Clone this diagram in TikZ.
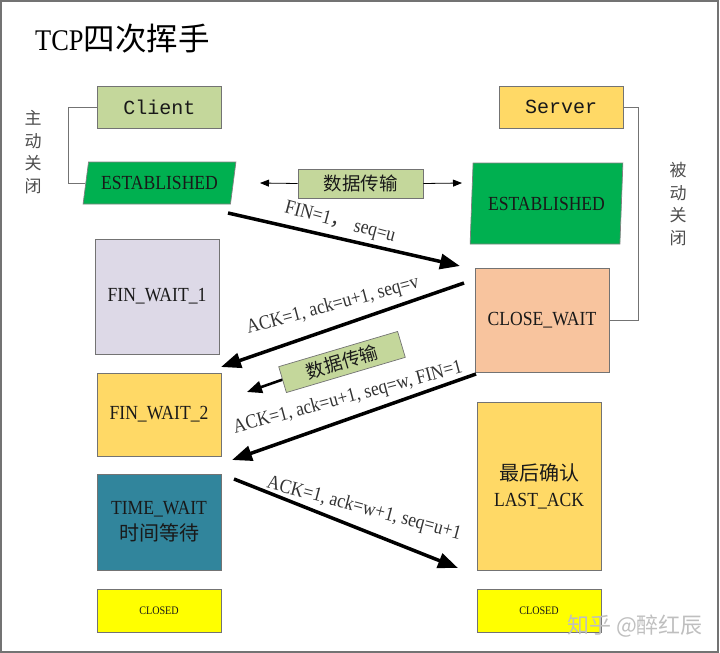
\documentclass[tikz,border=0pt]{standalone}
\usepackage{fontspec}
\setmainfont{Liberation Serif}[FakeStretch=0.88]
\newfontfamily\cjk{Noto Sans CJK SC}
\newfontfamily\monof{Liberation Mono}
\usetikzlibrary{arrows.meta,shapes.geometric}
\definecolor{cOlive}{HTML}{C4D79B}
\definecolor{cGreen}{HTML}{00B050}
\definecolor{cGold}{HTML}{FFD966}
\definecolor{cPeach}{HTML}{F8C49E}
\definecolor{cLav}{HTML}{DDD9E7}
\definecolor{cTeal}{HTML}{31859C}
\definecolor{cYel}{HTML}{FFFF00}
\tikzset{
  box/.style={draw=black!55, line width=0.7pt, minimum width=124pt, inner sep=0pt,
    align=center, text=black!90, font=\fontsize{20}{26}\selectfont},
  estab/.style={trapezium, trapezium stretches=true, fill=cGreen, draw=black!50,
    line width=0.7pt, inner sep=0pt, text=black!90, font=\fontsize{20}{24}\selectfont},
  brk/.style={draw=black!55, line width=0.9pt},
  big/.style={line width=3.5pt, -{Triangle[length=20pt,width=15pt]}},
  mid/.style={line width=2.6pt, -{Triangle[length=15pt,width=12pt]}},
  thinarr/.style={line width=0.8pt, -{Triangle[length=9pt,width=7pt]}},
  lbl/.style={inner sep=0pt, text=black!80, font=\fontsize{20}{22}\selectfont},
  vert/.style={inner sep=0pt, align=center, text=black!70, font=\cjk\fontsize{17}{22.5}\selectfont},
}
\begin{document}
\begin{tikzpicture}[x=1pt,y=-1pt]
\useasboundingbox (0,0) rectangle (720,653);
\draw[black!55, line width=1.6pt] (1,1) rectangle (718,652);

% title
\node[anchor=west, inner sep=0pt] (title) at (35,39)
  {\fontsize{30}{32}\selectfont TCP{\cjk\fontsize{31.5}{32}\selectfont 四次挥手}};

% client side
\node[box, fill=cOlive, minimum height=42pt, font=\monof\fontsize{20}{22}\selectfont] (client) at (159.5,107) {Client};
\node[estab, trapezium left angle=71.5, trapezium right angle=108.5,
  minimum width=153pt, minimum height=42pt] (estL) at (159.5,183) {ESTABLISHED};
\draw[brk] (client.west) -- ++(-29,0) |- (estL.west);
\node[vert] (zd) at (33,152) {主\\动\\关\\闭};

\node[box, fill=cLav, minimum height=115pt] (fw1) at (157,296.5) {FIN\_WAIT\_1};
\node[box, fill=cGold, minimum height=83pt] (fw2) at (159,414.5) {FIN\_WAIT\_2};
\node[box, fill=cTeal, minimum height=96pt] (tw) at (159,522) {TIME\_WAIT\\{\cjk\fontsize{20}{26}\selectfont 时间等待}};
\node[box, fill=cYel, minimum height=43pt, font=\fontsize{11.5}{13}\selectfont] (clL) at (159,610.5) {CLOSED};

% server side
\node[box, fill=cGold, minimum height=42pt, font=\monof\fontsize{20}{22}\selectfont] (server) at (561,107) {Server};
\node[estab, trapezium left angle=80, trapezium right angle=100,
  minimum width=153pt, minimum height=81pt] (estR) at (546.5,203.5) {ESTABLISHED};
\node[box, fill=cPeach, minimum width=134pt, minimum height=104pt] (cw) at (542,320) {CLOSE\_WAIT};
\draw[brk] (server.east) -- ++(15,0) |- (cw.east);
\node[vert] (bd) at (678,204) {被\\动\\关\\闭};

\node[box, fill=cGold, minimum height=168pt] (la) at (539,486) {{\cjk\fontsize{20}{26}\selectfont 最后确认}\\LAST\_ACK};
\node[box, fill=cYel, minimum height=43pt, font=\fontsize{11.5}{13}\selectfont] (clR) at (539,610.5) {CLOSED};

% data transfer (top)
\node[box, fill=cOlive, minimum width=125pt, minimum height=29pt, font=\cjk\fontsize{18.5}{20}\selectfont] (d1) at (360.5,183.5) {数据传输};
\coordinate (dL) at (260,183);
\coordinate (dR) at (462,183);
\draw[thinarr] (d1.west) -- (dL);
\draw[thinarr] (d1.east) -- (dR);

% arrows
\coordinate (a1s) at (228,213);
\coordinate (a1e) at (460,266);
\draw[big] (a1s) -- (a1e);
\node[lbl, rotate=-15] (l1) at (340,223) {FIN=1{\cjk ，} seq=u};

\coordinate (a2s) at (464,283);
\coordinate (a2e) at (221,367);
\draw[big] (a2s) -- (a2e);
\node[lbl, rotate=15] (l2) at (333,306) {ACK=1, ack=u+1, seq=v};

\node[box, fill=cOlive, minimum width=124pt, minimum height=27pt, rotate=16.5,
  font=\cjk\fontsize{18.5}{20}\selectfont] (d2) at (342,362) {数据传输};
\coordinate (d2e) at (247,392);
\draw[mid] (d2.west) -- (d2e);

\coordinate (a4s) at (476,374);
\coordinate (a4e) at (232,460);
\draw[big] (a4s) -- (a4e);
\node[lbl, rotate=15] (l4) at (348,398) {ACK=1, ack=u+1, seq=w, FIN=1};

\coordinate (a5s) at (234,479);
\coordinate (a5e) at (458,568);
\draw[big] (a5s) -- (a5e);
\node[lbl, rotate=-15] (l5) at (364,509) {ACK=1, ack=w+1, seq=u+1};

% watermark
\node[inner sep=0pt, text=black!25, font=\cjk\fontsize{22}{24}\selectfont] (wm) at (635,626) {知乎 @醉红辰};
\end{tikzpicture}
\end{document}
